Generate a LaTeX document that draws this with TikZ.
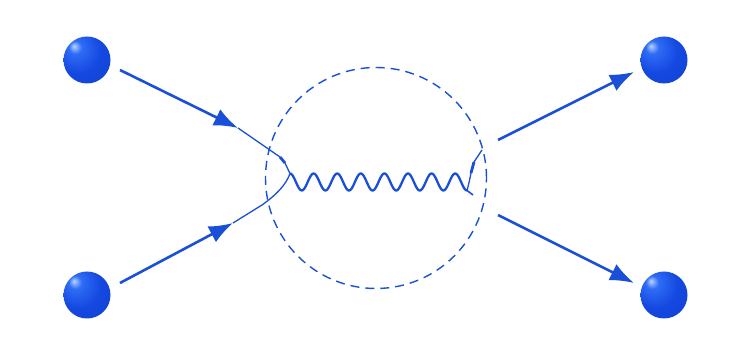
\documentclass[tikz,border=0pt]{standalone}
\usepackage{xcolor}
\usepackage{tikz}
\usetikzlibrary{arrows.meta, shapes.geometric, calc}
\definecolor{pblue}{HTML}{1A50D8}
\definecolor{pballhi}{HTML}{B8D4FF}
\definecolor{pballmid}{HTML}{2F6CF5}
\definecolor{pballblue}{HTML}{1448E0}
\definecolor{pballdark}{HTML}{0A2A9A}
\pgfdeclareradialshading{pball}{\pgfpoint{-14bp}{15bp}}{%
  color(0bp)=(pballhi); color(7bp)=(pballmid); color(24bp)=(pballblue);
  color(44bp)=(pballblue!80!pballdark); color(62bp)=(pballdark); color(70bp)=(pballdark)}

\begin{document}
\begin{tikzpicture}[x=1pt, y=1pt,
  particle/.style={circle, minimum size=47pt, inner sep=0pt, shading=pball},
  fermion/.style={draw=pblue, line width=2.6pt, -{Latex[length=24pt,width=18pt]}},
  thinline/.style={draw=pblue, line width=1.3pt},
  photon/.style={draw=pblue, line width=2.3pt},
  region/.style={draw=pblue, line width=1.4pt, dash pattern=on 9pt off 6pt}]
\useasboundingbox (0,0) rectangle (744,345);
\fill[white] (0,0) rectangle (744,345);
% incoming and outgoing particles
\node[particle] (inA) at (87,285) {};
\node[particle] (inB) at (87,50) {};
\node[particle] (outA) at (664,285) {};
\node[particle] (outB) at (664,50) {};
% interaction region
\node[circle, region, minimum size=221pt, inner sep=0pt] (blob) at (376,167) {};
\coordinate (tipA) at (238,217);
\coordinate (tipB) at (233,122);
\coordinate (vL) at (290,171.5);
\coordinate (vR) at (467,154.5);
\coordinate (startA) at (498,205);
\coordinate (startB) at (498,130);
\draw[fermion] ($(inA)+(33,-10)$) -- (tipA);
\draw[fermion] ($(inB)+(33,12)$) -- (tipB);
% left vertex
\draw[thinline] (tipA) -- (280,188);
\draw[pblue, line width=2.8pt] (280,188) -- (285,182);
\draw[thinline] (285,182) -- (vL);
\draw[thinline] (tipB) -- (262,140) .. controls (276,150) and (286,160) .. (vL);
% exchanged boson
\draw[photon] (vL) plot[domain=0:7.5, samples=180] ({290+23.6*\x},{163+8.5*cos(360*\x)});
% right vertex
\draw[thinline] (vR) .. controls (469,162) .. (471,172);
\draw[pblue, line width=2.8pt] (471,172) -- (474,183);
\draw[thinline] (474,183) -- (482,195);
\draw[pblue, line width=1.6pt] (vR) -- (473,150);
\draw[fermion] (startA) -- ($(outA)+(-30,-12)$);
\draw[fermion] (startB) -- ($(outB)+(-30,12)$);
\end{tikzpicture}
\end{document}
